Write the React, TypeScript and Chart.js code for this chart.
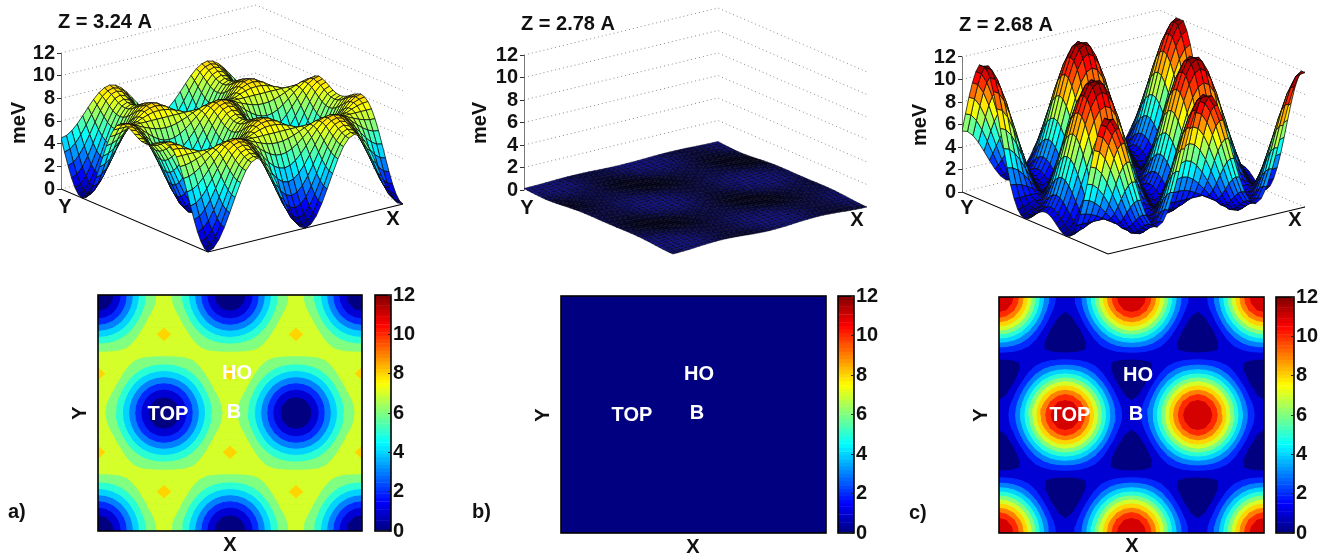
import React, { useEffect, useRef } from "react";
import { Chart, registerables } from "chart.js";

Chart.register(...registerables);

// Potential energy (meV): one half period along X (10 columns),
// one half of the map along Y (19 rows). The maps repeat by mirroring these blocks.
const energyBlockA = [
  [0,.22,.84,1.8,2.98,4.22,5.4,6.36,6.98,7.2],
  [.16,.38,.99,1.94,3.09,4.32,5.48,6.42,7.04,7.25],
  [.64,.84,1.43,2.33,3.43,4.61,5.71,6.61,7.2,7.4],
  [1.38,1.57,2.11,2.94,3.96,5.04,6.06,6.89,7.43,7.62],
  [2.33,2.5,2.98,3.71,4.61,5.57,6.47,7.2,7.68,7.84],
  [3.4,3.54,3.94,4.56,5.31,6.11,6.87,7.49,7.85,7.99],
  [4.5,4.61,4.92,5.4,5.99,6.61,7.2,7.68,7.99,8.12],
  [5.55,5.62,5.84,6.16,6.56,6.99,7.39,7.72,7.9,7.99],
  [6.47,6.5,6.61,6.78,6.98,7.2,7.4,7.57,7.68,7.72],
  [7.2,7.2,7.2,7.2,7.2,7.2,7.2,7.2,7.2,7.2],
  [7.72,7.68,7.57,7.4,7.2,6.98,6.78,6.61,6.5,6.47],
  [7.99,7.9,7.72,7.39,6.99,6.56,6.16,5.84,5.62,5.55],
  [8.12,7.99,7.68,7.2,6.61,5.99,5.4,4.92,4.61,4.5],
  [7.99,7.85,7.49,6.87,6.11,5.31,4.56,3.94,3.54,3.4],
  [7.84,7.68,7.2,6.47,5.57,4.61,3.71,2.98,2.5,2.33],
  [7.62,7.43,6.89,6.06,5.04,3.96,2.94,2.11,1.57,1.38],
  [7.4,7.2,6.61,5.71,4.61,3.43,2.33,1.43,.84,.64],
  [7.25,7.04,6.42,5.48,4.32,3.09,1.94,.99,.38,.16],
  [7.2,6.98,6.36,5.4,4.22,2.98,1.8,.84,.22,0],
];
const energyBlockB = [
  [0,.01,.03,.05,.09,.13,.16,.19,.21,.22],
  [0,.01,.03,.06,.09,.13,.16,.19,.21,.22],
  [.02,.03,.04,.07,.1,.14,.17,.2,.22,.22],
  [.04,.05,.06,.09,.12,.15,.18,.21,.22,.23],
  [.07,.08,.09,.11,.14,.17,.19,.22,.23,.24],
  [.1,.11,.12,.14,.16,.18,.21,.22,.24,.24],
  [.14,.14,.15,.16,.18,.2,.22,.23,.24,.24],
  [.17,.17,.18,.18,.2,.21,.22,.23,.24,.24],
  [.19,.2,.2,.2,.21,.22,.22,.23,.23,.23],
  [.22,.22,.22,.22,.22,.22,.22,.22,.22,.22],
  [.23,.23,.23,.22,.22,.21,.2,.2,.2,.19],
  [.24,.24,.23,.22,.21,.2,.18,.18,.17,.17],
  [.24,.24,.23,.22,.2,.18,.16,.15,.14,.14],
  [.24,.24,.22,.21,.18,.16,.14,.12,.11,.1],
  [.24,.23,.22,.19,.17,.14,.11,.09,.08,.07],
  [.23,.22,.21,.18,.15,.12,.09,.06,.05,.04],
  [.22,.22,.2,.17,.14,.1,.07,.04,.03,.02],
  [.22,.21,.19,.16,.13,.09,.06,.03,.01,0],
  [.22,.21,.19,.16,.13,.09,.05,.03,.01,0],
];
const energyBlockC = [
  [11.95,11.87,10.92,9.49,7.72,5.83,4.07,2.62,1.68,1.36],
  [11.95,11.63,10.7,9.28,7.54,5.69,3.94,2.52,1.6,1.27],
  [11.23,10.92,10.04,8.69,7.02,5.26,3.59,2.24,1.36,1.05],
  [10.11,9.83,9.02,7.77,6.24,4.6,3.07,1.82,1.01,.73],
  [8.69,8.44,7.72,6.61,5.26,3.82,2.46,1.36,.63,.38],
  [7.08,6.87,6.26,5.34,4.2,2.99,1.85,.92,.32,.11],
  [5.42,5.26,4.79,4.07,3.18,2.24,1.36,.63,.16,0],
  [3.84,3.73,3.41,2.92,2.31,1.67,1.06,.57,.25,.14],
  [2.46,2.4,2.24,1.99,1.68,1.36,1.05,.8,.63,.58],
  [1.36,1.36,1.36,1.36,1.36,1.36,1.36,1.36,1.36,1.36],
  [.58,.63,.8,1.05,1.36,1.68,1.99,2.24,2.4,2.46],
  [.14,.25,.57,1.06,1.67,2.31,2.92,3.41,3.73,3.84],
  [0,.16,.63,1.36,2.24,3.18,4.07,4.79,5.26,5.42],
  [.11,.32,.92,1.85,2.99,4.2,5.34,6.26,6.87,7.08],
  [.38,.63,1.36,2.46,3.82,5.26,6.61,7.72,8.44,8.69],
  [.73,1.01,1.82,3.07,4.6,6.24,7.77,9.02,9.83,10.11],
  [1.05,1.36,2.24,3.59,5.26,7.02,8.69,10.04,10.92,11.23],
  [1.27,1.6,2.52,3.94,5.69,7.54,9.28,10.7,11.63,11.95],
  [1.36,1.68,2.62,4.07,5.83,7.72,9.49,10.92,11.87,11.95],
];

const energyTicks = [0, 2, 4, 6, 8, 10, 12];
const contourLevels = [0, 1, 2, 3, 4, 5, 6, 7, 8, 9, 10, 11, 12];
const heightLabels = ["Z = 3.24 A", "Z = 2.78 A", "Z = 2.68 A"];
const panelLabels = ["a)", "b)", "c)"];
const siteLabels = ["TOP", "HO", "B"];
const FONT = 'bold 20px "Liberation Sans"';

type Text = { t: string; x: number; y: number; rot?: boolean; white?: boolean; left?: boolean };

const clamp = (v: number) => Math.max(0, Math.min(1, v));
function jet(t: number) {
  const r = clamp(Math.min(4 * t - 1.5, -4 * t + 4.5));
  const g = clamp(Math.min(4 * t - 0.5, -4 * t + 3.5));
  const b = clamp(Math.min(4 * t + 0.5, -4 * t + 2.5));
  return `rgb(${Math.round(r * 255)},${Math.round(g * 255)},${Math.round(b * 255)})`;
}

// whole map: the block mirrored along X (two periods) and along Y
const fullMap = (block: number[][]) => {
  const rows = block.map((b) => {
    const down = b.slice(0, -1).reverse();
    return [...b, ...down, ...b.slice(1), ...down.slice(0, -1), b[0]];
  });
  return [...rows, ...rows.slice(0, -1).reverse()];
};
// the 3D surface runs a little past one period of the map along Y
const surfaceMap = (block: number[][]) => {
  const m = fullMap(block);
  return [...m, ...m.slice(1, 7)];
};

function textPlugin(items: Text[], ox: number, oy: number) {
  return {
    id: "pageText",
    afterDraw(chart: any) {
      const ctx = chart.ctx;
      ctx.save();
      ctx.font = FONT;
      ctx.textBaseline = "middle";
      for (const it of items) {
        ctx.save();
        ctx.fillStyle = it.white ? "#ffffff" : "#111111";
        ctx.textAlign = it.left ? "left" : "center";
        ctx.translate(it.x - ox, it.y - oy);
        if (it.rot) ctx.rotate(-Math.PI / 2);
        ctx.fillText(it.t, 0, 0);
        ctx.restore();
      }
      ctx.restore();
    },
  };
}
const framePlugin = {
  id: "frame",
  afterDatasetsDraw(chart: any) {
    const { ctx, chartArea: a } = chart;
    ctx.save();
    ctx.strokeStyle = "#000";
    ctx.lineWidth = 1.6;
    ctx.strokeRect(a.left, a.top, a.right - a.left, a.bottom - a.top);
    ctx.restore();
  },
};
const baseFillPlugin = {
  id: "baseFill",
  beforeDatasetsDraw(chart: any) {
    const { ctx, chartArea: a } = chart;
    ctx.save();
    ctx.fillStyle = jet(contourLevels[0] / 12);
    ctx.fillRect(a.left, a.top, a.right - a.left, a.bottom - a.top);
    ctx.restore();
  },
};
const abs = (left: number, top: number): React.CSSProperties => ({ position: "absolute", left, top, display: "block" });

type SurfaceProps = {
  block: number[][];
  L: number[]; F: number[]; R: number[]; k: number;
  left: number; width: number; height: number;
  foldShade?: boolean;
  texts: Text[];
};

function Surface(p: SurfaceProps) {
  const ref = useRef<HTMLCanvasElement>(null);
  useEffect(() => {
    const { L, F, R, k } = p;
    const proj = (u: number, v: number, z: number) => ({
      x: F[0] + u * (R[0] - F[0]) + v * (L[0] - F[0]) - L[0],
      y: (L[1] - (F[1] + u * (R[1] - F[1]) + v * (L[1] - F[1]))) / k + z,
    });
    const m = surfaceMap(p.block);
    const nr = m.length - 1;
    const nc = m[0].length - 1;
    const cells: { c: number; r: number }[] = [];
    for (let r = 0; r < nr; r++) for (let c = 0; c < nc; c++) cells.push({ c, r });
    cells.sort((a, b) => a.c + a.r - (b.c + b.r));
    const flatArea = Math.abs((R[0] - F[0]) * (L[1] - F[1]) - (R[1] - F[1]) * (L[0] - F[0])) / (nc * nr);
    const quads = cells.map(({ c, r }) => {
      const at = (cc: number, rr: number) => proj(cc / nc, rr / nr, m[rr][cc]);
      const pts = [at(c, r), at(c + 1, r), at(c + 1, r + 1), at(c, r + 1)];
      const mean = (m[r][c] + m[r][c + 1] + m[r + 1][c] + m[r + 1][c + 1]) / 4;
      let fill = jet(mean / 12);
      let edge = "#0a0a0a";
      let edgeWidth = 0.75;
      if (p.foldShade) {
        let area = 0;
        pts.forEach((a, i) => {
          const b = pts[(i + 1) % 4];
          area += (a.x * b.y - b.x * a.y) * k;
        });
        const t = clamp(0.5 + (Math.abs(area) / 2 / flatArea - 1) * 3);
        fill = `rgb(${Math.round(4 + t * 16)},${Math.round(4 + t * 16)},${Math.round(16 + t * 120)})`;
        edge = "#00001a";
        edgeWidth = 0.5;
      }
      return {
        data: [...pts, pts[0]],
        fill: "shape" as any,
        backgroundColor: fill,
        borderColor: edge,
        borderWidth: edgeWidth,
        pointRadius: 0,
        tension: 0,
      };
    });
    const floor = {
      data: [proj(0, 1, 0), proj(0, 0, 0), proj(1, 0, 0)],
      borderColor: "#000", borderWidth: 1.1, pointRadius: 0, fill: false,
    };
    const zAxis = {
      data: [proj(0, 1, 0), proj(0, 1, 12)],
      borderColor: "#444", borderWidth: 1.4, pointRadius: 0, fill: false,
    };
    const walls = energyTicks.map((z) => ({
      data: [proj(0, 1, z), proj(1, 1, z), proj(1, 0, z)],
      borderColor: "#8a8a8a", borderWidth: 1, borderDash: [1, 3], pointRadius: 0, fill: false,
    }));
    const chart = new Chart(ref.current!, {
      type: "line",
      data: { datasets: [...quads, ...(p.foldShade ? [] : [floor]), zAxis, ...walls] as any },
      plugins: [textPlugin(p.texts, p.left, 0)],
      options: {
        responsive: false,
        animation: false,
        events: [],
        layout: { padding: 0 },
        plugins: { legend: { display: false }, tooltip: { enabled: false } },
        scales: {
          x: { type: "linear", display: false, min: 0, max: p.left + p.width - L[0] },
          y: {
            type: "linear",
            position: "left",
            min: (L[1] - p.height) / k,
            max: L[1] / k,
            border: { display: false },
            grid: { display: true, drawOnChartArea: false, drawTicks: true, tickLength: 4, color: "#333" },
            ticks: { autoSkip: false, padding: 2, color: "#111", font: { family: "Liberation Sans", size: 20, weight: "bold" } },
            afterBuildTicks(s: any) { s.ticks = energyTicks.map((value) => ({ value })); },
            afterFit(s: any) { s.width = L[0] - p.left; s.paddingTop = 0; s.paddingBottom = 0; },
          },
        },
      } as any,
    });
    return () => chart.destroy();
  }, []);
  return <canvas ref={ref} width={p.width} height={p.height} style={abs(p.left, 0)} />;
}

type ContourProps = { block: number[][]; box: number[]; texts: Text[] };

function Contour(p: ContourProps) {
  const ref = useRef<HTMLCanvasElement>(null);
  const [x0, y0, x1, y1] = p.box;
  const ox = x0 - 92, oy = y0 - 6;
  const w = x1 - x0 + 98, h = 557 - oy;
  useEffect(() => {
    const m = fullMap(p.block);
    const n = m.length - 1;
    const byLevel: { x: number; y: number }[][][] = contourLevels.map(() => []);
    type V = { x: number; y: number; z: number };
    const clip = (poly: V[], level: number) => {
      const out: V[] = [];
      poly.forEach((a, i) => {
        const b = poly[(i + 1) % poly.length];
        if (a.z >= level) out.push(a);
        if (a.z >= level !== b.z >= level) {
          const t = (level - a.z) / (b.z - a.z);
          out.push({ x: a.x + t * (b.x - a.x), y: a.y + t * (b.y - a.y), z: level });
        }
      });
      return out;
    };
    for (let r = 0; r < n; r++) {
      let runStart = -1;
      let runLevel = -1;
      const flush = (end: number) => {
        if (runStart >= 0) {
          byLevel[runLevel].push([
            { x: runStart, y: r }, { x: end, y: r }, { x: end, y: r + 1 }, { x: runStart, y: r + 1 },
          ]);
        }
        runStart = -1;
      };
      for (let c = 0; c < n; c++) {
        const q: V[] = [
          { x: c, y: r, z: m[r][c] }, { x: c + 1, y: r, z: m[r][c + 1] },
          { x: c + 1, y: r + 1, z: m[r + 1][c + 1] }, { x: c, y: r + 1, z: m[r + 1][c] },
        ];
        const zs = q.map((v) => v.z);
        const lo = Math.floor(Math.min(...zs));
        const hi = Math.floor(Math.max(...zs));
        if (lo === hi) {
          if (runStart >= 0 && runLevel !== lo) flush(c);
          if (runStart < 0) { runStart = c; runLevel = lo; }
          continue;
        }
        flush(c);
        for (let l = lo; l <= hi; l++) {
          const poly = l === lo ? q : clip(q, l);
          if (poly.length > 2) byLevel[l].push(poly.map(({ x, y }) => ({ x, y })));
        }
      }
      flush(n);
    }
    const datasets: any[] = [];
    for (let l = contourLevels.length - 1; l >= 0; l--) {
      const color = jet(contourLevels[l] / 12);
      for (const poly of byLevel[l]) {
        datasets.push({
          data: [...poly, poly[0]],
          fill: "shape",
          backgroundColor: color,
          borderColor: color,
          borderWidth: 1,
          pointRadius: 0,
        });
      }
    }
    const chart = new Chart(ref.current!, {
      type: "line",
      data: { datasets },
      plugins: [baseFillPlugin, framePlugin, textPlugin(p.texts, ox, oy)],
      options: {
        responsive: false,
        animation: false,
        events: [],
        layout: { padding: { left: x0 - ox, top: y0 - oy, right: ox + w - x1, bottom: oy + h - y1 } },
        plugins: { legend: { display: false }, tooltip: { enabled: false } },
        scales: {
          x: { type: "linear", display: false, min: 0, max: n },
          y: { type: "linear", display: false, min: 0, max: n },
        },
      } as any,
    });
    return () => chart.destroy();
  }, []);
  return <canvas ref={ref} width={w} height={h} style={abs(ox, oy)} />;
}

function ColorBar({ box }: { box: number[] }) {
  const ref = useRef<HTMLCanvasElement>(null);
  const [x0, y0, x1, y1] = box;
  const ox = x0 - 2, oy = y0 - 14;
  const w = x1 - x0 + 36, h = y1 - y0 + 28;
  useEffect(() => {
    const steps = 64;
    const datasets: any[] = [];
    for (let i = steps - 1; i >= 0; i--) {
      const color = jet((i + 0.5) / steps);
      datasets.push({
        data: [[(i * 12) / steps, ((i + 1) * 12) / steps]],
        backgroundColor: color,
        borderColor: color,
        borderWidth: 0.6,
        borderSkipped: false,
        barPercentage: 1,
        categoryPercentage: 1,
      });
    }
    const chart = new Chart(ref.current!, {
      type: "bar",
      data: { labels: ["colour"], datasets },
      plugins: [framePlugin],
      options: {
        responsive: false,
        animation: false,
        events: [],
        layout: { padding: { left: 2, top: 14, bottom: 14, right: 0 } },
        plugins: { legend: { display: false }, tooltip: { enabled: false } },
        scales: {
          x: { display: false, stacked: true },
          y: {
            position: "right",
            min: 0,
            max: 12,
            border: { display: false },
            grid: { display: true, drawOnChartArea: false, drawTicks: true, tickLength: -3, color: "#222", z: 1 },
            ticks: { autoSkip: false, padding: 5, color: "#111", font: { family: "Liberation Sans", size: 20, weight: "bold" } },
            afterBuildTicks(s: any) { s.ticks = energyTicks.map((value) => ({ value })); },
            afterFit(s: any) { s.width = 34; s.paddingTop = 0; s.paddingBottom = 0; },
          },
        },
      } as any,
    });
    return () => chart.destroy();
  }, []);
  return <canvas ref={ref} width={w} height={h} style={abs(ox, oy)} />;
}

export default function App() {
  return (
    <div style={{ position: "absolute", left: 0, top: 0, width: 1326, height: 557 }}>
      <Surface
        block={energyBlockA} L={[61, 189]} F={[208, 252]} R={[403, 204]} k={11.33}
        left={0} width={425} height={262}
        texts={[
          { t: heightLabels[0], x: 58, y: 22, left: true },
          { t: "meV", x: 19, y: 123, rot: true },
          { t: "Y", x: 65, y: 207 },
          { t: "X", x: 393, y: 219 },
        ]}
      />
      <Surface
        block={energyBlockB} L={[524, 190]} F={[673, 254]} R={[867, 207]} k={11.25}
        left={465} width={420} height={262} foldShade
        texts={[
          { t: heightLabels[1], x: 521, y: 24, left: true },
          { t: "meV", x: 480, y: 123, rot: true },
          { t: "Y", x: 527, y: 208 },
          { t: "X", x: 857, y: 220 },
        ]}
      />
      <Surface
        block={energyBlockC} L={[962, 192]} F={[1108, 254]} R={[1305, 207]} k={11.25}
        left={905} width={421} height={262}
        texts={[
          { t: heightLabels[2], x: 959, y: 25, left: true },
          { t: "meV", x: 920, y: 125, rot: true },
          { t: "Y", x: 967, y: 208 },
          { t: "X", x: 1295, y: 220 },
        ]}
      />
      <Contour
        block={energyBlockA} box={[98, 295, 362, 531]}
        texts={[
          { t: siteLabels[0], x: 168, y: 414, white: true },
          { t: siteLabels[1], x: 237, y: 373, white: true },
          { t: siteLabels[2], x: 234, y: 412, white: true },
          { t: "Y", x: 80, y: 413, rot: true },
          { t: "X", x: 230, y: 545 },
          { t: panelLabels[0], x: 8, y: 512, left: true },
        ]}
      />
      <Contour
        block={energyBlockB} box={[561, 296, 826, 533]}
        texts={[
          { t: siteLabels[0], x: 632, y: 415, white: true },
          { t: siteLabels[1], x: 699, y: 374, white: true },
          { t: siteLabels[2], x: 697, y: 413, white: true },
          { t: "Y", x: 543, y: 415, rot: true },
          { t: "X", x: 693, y: 547 },
          { t: panelLabels[1], x: 472, y: 512, left: true },
        ]}
      />
      <Contour
        block={energyBlockC} box={[999, 297, 1264, 533]}
        texts={[
          { t: siteLabels[0], x: 1070, y: 415, white: true },
          { t: siteLabels[1], x: 1138, y: 375, white: true },
          { t: siteLabels[2], x: 1136, y: 414, white: true },
          { t: "Y", x: 981, y: 415, rot: true },
          { t: "X", x: 1132, y: 546 },
          { t: panelLabels[2], x: 909, y: 513, left: true },
        ]}
      />
      <ColorBar box={[375, 295, 391, 531]} />
      <ColorBar box={[838, 296, 854, 533]} />
      <ColorBar box={[1276, 297, 1294, 533]} />
    </div>
  );
}
